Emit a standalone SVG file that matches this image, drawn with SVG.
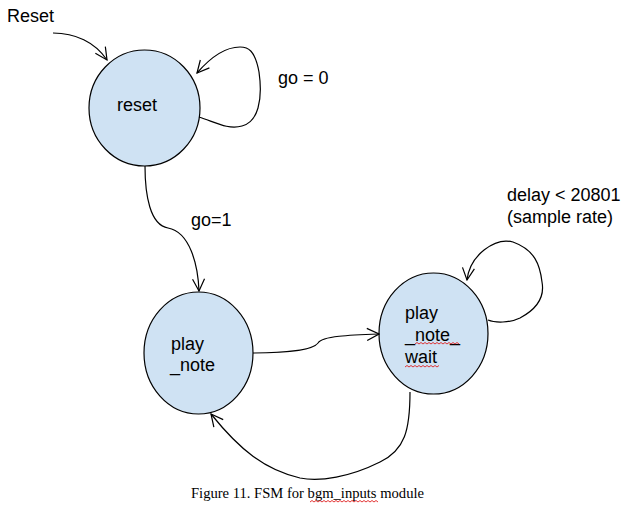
<svg xmlns="http://www.w3.org/2000/svg" width="641" height="513" viewBox="0 0 641 513">
<style>
.node{fill:#cfe2f3;stroke:#000;stroke-width:1.2}
.lbl{font-family:"Liberation Sans",Arial,sans-serif;font-size:18px;fill:#000}
.edge{fill:none;stroke:#000;stroke-width:1.2}
.sq{fill:none;stroke:#e02020;stroke-width:0.9}
.cap{font-family:"Liberation Serif","Times New Roman",serif;font-size:14.6px;fill:#000}
</style>
<defs>
<marker id="arr" viewBox="0 0 14 14" refX="13" refY="7" markerWidth="14" markerHeight="14" markerUnits="userSpaceOnUse" orient="auto">
<path d="M1,1 L13,7 L1,13" fill="none" stroke="#000" stroke-width="1.2"/>
</marker>
</defs>
<rect width="641" height="513" fill="#fff"/>
<g id="reset">
<ellipse class="node" cx="144.5" cy="108" rx="55.5" ry="58"/>
<text class="lbl" x="117" y="111">reset</text>
</g>
<g id="play_note">
<ellipse class="node" cx="198.5" cy="353" rx="54.5" ry="61"/>
<text class="lbl" x="171" y="350">play</text>
<text class="lbl" x="170" y="371">_note</text>
</g>
<g id="play_note_wait">
<ellipse class="node" cx="433.5" cy="333.5" rx="54.5" ry="60.5"/>
<text class="lbl" x="405" y="319">play</text>
<text class="lbl" x="405" y="341">_note_</text>
<text class="lbl" x="405" y="363">wait</text>
<path class="sq" d="M415,344 l2,-1.5 l2,1.5 l2,-1.5 l2,1.5 l2,-1.5 l2,1.5 l2,-1.5 l2,1.5 l2,-1.5 l2,1.5 l2,-1.5 l2,1.5 l2,-1.5 l2,1.5 l2,-1.5 l2,1.5 l2,-1.5 l2,1.5 l2,-1.5 l2,1.5 l2,-1.5 l2,1.5"/>
<path class="sq" d="M405,367 l2,-1.5 l2,1.5 l2,-1.5 l2,1.5 l2,-1.5 l2,1.5 l2,-1.5 l2,1.5 l2,-1.5 l2,1.5 l2,-1.5 l2,1.5 l2,-1.5 l2,1.5 l2,-1.5 l2,1.5 l2,-1.5"/>
</g>
<g id="connectors">
<path class="edge" marker-end="url(#arr)" d="M53,33 C75,33 95,42 107,60"/>
<path class="edge" marker-end="url(#arr)" d="M199,117 C215,122 228,130 242,126 C258,122 263,100 259,72 C255,50 248,47 240,47 C225,47 210,58 197,73"/>
<path class="edge" marker-end="url(#arr)" d="M145,166 C145,195 150,225 168,228 C190,232 198,265 199,291"/>
<path class="edge" marker-end="url(#arr)" d="M253,353 C285,353 313,350 318,343 C322,336 350,335 379,334"/>
<path class="edge" marker-end="url(#arr)" d="M488,320 C495,323 510,323 520,318 C535,310 545,298 542,282 C540,265 535,250 513,242 C495,237 470,255 467,280"/>
<path class="edge" marker-end="url(#arr)" d="M410,392 C410,430 405,450 380,462 C350,477 320,482 300,478 C265,470 240,450 211,414"/>
</g>
<g id="labels">
<text class="lbl" x="7" y="22">Reset</text>
<text class="lbl" x="278" y="84">go = 0</text>
<text class="lbl" x="191" y="226">go=1</text>
<text class="lbl" x="507" y="201">delay &lt; 20801</text>
<text class="lbl" x="507" y="223">(sample rate)</text>
</g>
<g id="caption">
<text class="cap" x="191" y="498">Figure 11. FSM for bgm_inputs module</text>
<path class="sq" d="M310,502 l2,-1.5 l2,1.5 l2,-1.5 l2,1.5 l2,-1.5 l2,1.5 l2,-1.5 l2,1.5 l2,-1.5 l2,1.5 l2,-1.5 l2,1.5 l2,-1.5 l2,1.5 l2,-1.5 l2,1.5 l2,-1.5 l2,1.5 l2,-1.5 l2,1.5 l2,-1.5 l2,1.5 l2,-1.5 l2,1.5 l2,-1.5 l2,1.5 l2,-1.5 l2,1.5 l2,-1.5 l2,1.5 l2,-1.5 l2,1.5 l2,-1.5 l2,1.5"/>
</g>
</svg>
